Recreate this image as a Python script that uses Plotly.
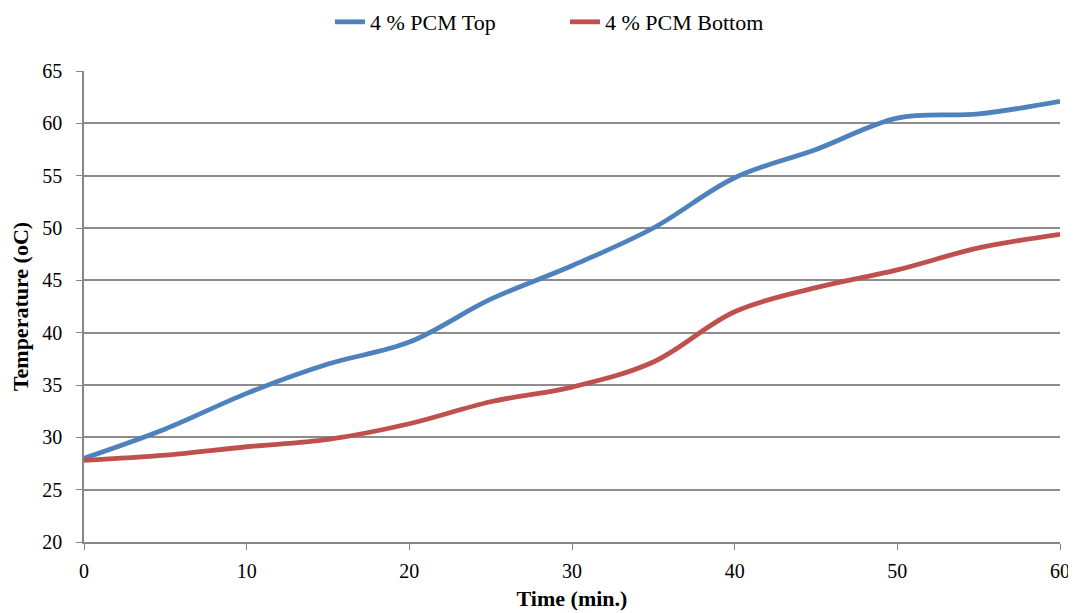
import plotly.graph_objects as go

time_min = [0, 5, 10, 15, 20, 25, 30, 35, 40, 45, 50, 55, 60]
pcm_top = [28.0, 30.8, 34.2, 37.0, 39.1, 43.2, 46.4, 50.0, 54.8, 57.5, 60.5, 60.9, 62.1]
pcm_bottom = [27.8, 28.3, 29.1, 29.8, 31.3, 33.4, 34.8, 37.2, 42.0, 44.3, 46.0, 48.1, 49.4]

font_family = "Liberation Serif"

fig = go.Figure()
fig.add_trace(go.Scatter(x=time_min, y=pcm_top, mode="lines", name="4 % PCM Top",
                         line=dict(color="#4F81BD", width=4.8, shape="spline", smoothing=1.0)))
fig.add_trace(go.Scatter(x=time_min, y=pcm_bottom, mode="lines", name="4 % PCM Bottom",
                         line=dict(color="#C0504D", width=4.8, shape="spline", smoothing=1.0)))

fig.update_layout(
    width=1068, height=605,
    margin=dict(l=76, r=16, t=63, b=71, autoexpand=False),
    plot_bgcolor="white", paper_bgcolor="white",
    font=dict(family=font_family, size=20, color="black"),
    showlegend=True,
    legend=dict(orientation="h", x=0.252, xanchor="left", y=1.104, yanchor="middle",
                font=dict(size=22, family=font_family),
                entrywidth=190, entrywidthmode="pixels", traceorder="normal"),
    xaxis=dict(range=[0, 60], tickvals=[0, 10, 20, 30, 40, 50, 60],
               showgrid=False, showline=True, linecolor="#878787", linewidth=1.5,
               ticks="outside", ticklen=6, tickcolor="#878787", ticklabelstandoff=4,
               ticklabeloverflow="allow",
               title=dict(text="<b>Time (min.)</b>", font=dict(size=22), standoff=10),
               zeroline=False, automargin=False),
    yaxis=dict(range=[20, 65], tickvals=[20, 25, 30, 35, 40, 45, 50, 55, 60, 65],
               showgrid=True, gridcolor="#8C8C8C", gridwidth=1.5,
               showline=True, linecolor="#878787", linewidth=1.5,
               ticks="outside", ticklen=6, tickcolor="#878787", ticklabelstandoff=10,
               title=dict(text="<b>Temperature (oC)</b>", font=dict(size=22), standoff=15),
               zeroline=False, automargin=False),
)

fig.write_html("out.html")
